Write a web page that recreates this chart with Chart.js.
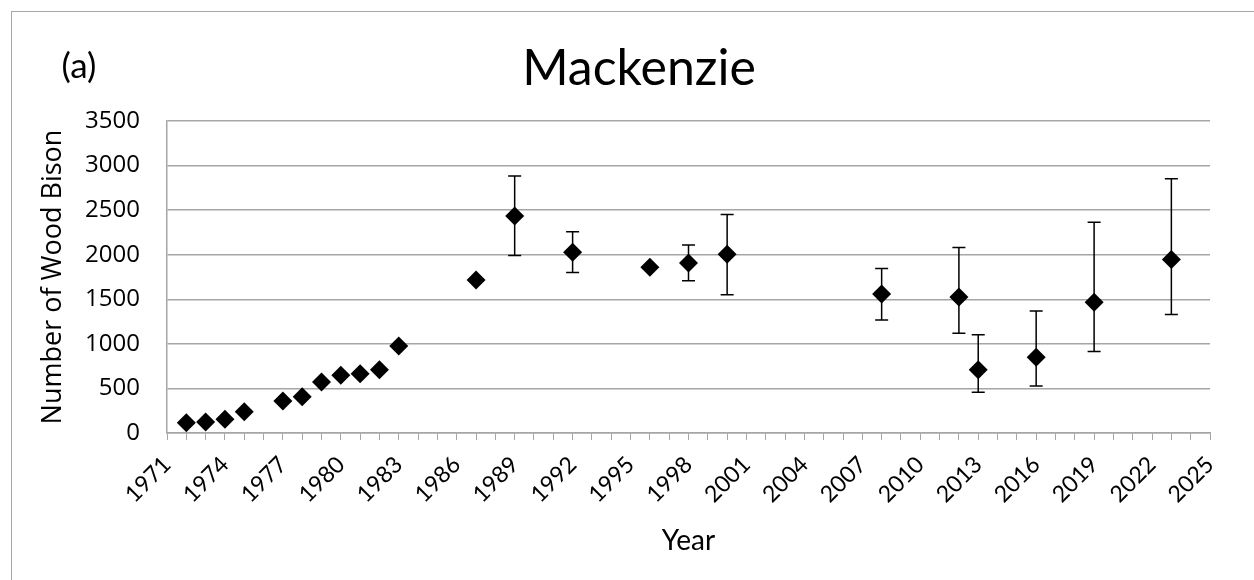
<!DOCTYPE html>
<html>
<head>
<meta charset="utf-8">
<script src="https://cdn.jsdelivr.net/npm/chart.js@4/dist/chart.umd.min.js"></script>
<style>
    html, body { margin: 0; padding: 0; background: #fff; }
    #wrap { width: 1254px; height: 580px; position: relative; }
</style>
</head>
<body>
<div id="wrap"><canvas id="bison-chart" width="1254" height="580"></canvas></div>
<script>
// Survey years and estimated herd size
const years = [1972, 1973, 1974, 1975, 1977, 1978, 1979, 1980, 1981, 1982, 1983,
    1987, 1989, 1992, 1996, 1998, 2000, 2008, 2012, 2013, 2016, 2019, 2023];
const counts = [115, 123, 154, 239, 359, 408, 572, 647, 665, 710, 976,
    1717, 2435, 2028, 1860, 1908, 2005, 1560, 1527, 710, 850, 1467, 1945];
// Confidence limits (null where no error bar was drawn)
const upperLimits = [null, null, null, null, null, null, null, null, null, null, null,
    null, 2884, 2259, null, 2110, 2450, 1844, 2080, 1103, 1369, 2365, 2851];
const lowerLimits = [null, null, null, null, null, null, null, null, null, null, null,
    null, 1990, 1800, null, 1709, 1552, 1268, 1119, 457, 527, 913, 1328];
const yTicks = [0, 500, 1000, 1500, 2000, 2500, 3000, 3500];
const xMin = 1971, xMax = 2025, xLabelStep = 3;

const geometric = 'Lato, "Noto Sans", sans-serif';
const plain = '"Open Sans", "Noto Sans", sans-serif';

// Error bars drawn from the chart's own scales
const errorBars = {
    id: 'errorBars',
    afterDatasetsDraw(chart) {
        const ctx = chart.ctx;
        const xs = chart.scales.x, ys = chart.scales.y;
        ctx.save();
        ctx.strokeStyle = '#000';
        ctx.lineWidth = 1.5;
        years.forEach(function(yr, i) {
            if (upperLimits[i] == null) return;
            const px = xs.getPixelForValue(yr);
            const top = ys.getPixelForValue(upperLimits[i]);
            const bot = ys.getPixelForValue(lowerLimits[i]);
            ctx.beginPath();
            ctx.moveTo(px, top); ctx.lineTo(px, bot);
            ctx.moveTo(px - 6.5, top); ctx.lineTo(px + 6.5, top);
            ctx.moveTo(px - 6.5, bot); ctx.lineTo(px + 6.5, bot);
            ctx.stroke();
        });
        ctx.restore();
    }
};

// Frame, panel letter and title
const decorations = {
    id: 'decorations',
    afterDraw(chart) {
        const ctx = chart.ctx;
        ctx.save();
        ctx.strokeStyle = '#a6a6a6';
        ctx.lineWidth = 1;
        ctx.strokeRect(11.5, 11.5, 1300, 700);
        ctx.fillStyle = '#000';
        ctx.textAlign = 'center';
        ctx.textBaseline = 'alphabetic';
        ctx.font = '50px ' + geometric;
        ctx.fillText('Mackenzie', 639, 85);
        ctx.font = '35px ' + geometric;
        ctx.fillText('(a)', 79, 78);
        ctx.restore();
    }
};

new Chart(document.getElementById('bison-chart'), {
    type: 'scatter',
    data: {
        datasets: [{
            label: 'Wood Bison',
            data: years.map(function(yr, i) { return { x: yr, y: counts[i] }; }),
            pointStyle: 'rectRot',
            pointRadius: 9.5,
            pointHoverRadius: 9.5,
            backgroundColor: '#000',
            borderColor: '#000',
            borderWidth: 0
        }]
    },
    options: {
        responsive: false,
        animation: false,
        events: [],
        layout: { padding: { left: 37, top: 121, right: 44, bottom: 20 } },
        plugins: {
            legend: { display: false },
            tooltip: { enabled: false }
        },
        scales: {
            x: {
                type: 'linear',
                min: xMin,
                max: xMax,
                afterBuildTicks: function(scale) {
                    const t = [];
                    for (let v = xMin; v <= xMax; v++) t.push({ value: v });
                    scale.ticks = t;
                },
                afterFit: function(scale) { scale.height = 127; },
                border: { color: '#a6a6a6', width: 1.5 },
                grid: { drawOnChartArea: false, drawTicks: true, tickLength: 7, color: '#a6a6a6' },
                ticks: {
                    autoSkip: false,
                    minRotation: 45,
                    maxRotation: 45,
                    padding: 11,
                    color: '#000',
                    font: { family: geometric, size: 23 },
                    callback: function(v) { return (v - xMin) % xLabelStep === 0 ? String(v) : ''; }
                },
                title: {
                    display: true,
                    text: 'Year',
                    color: '#000',
                    font: { family: geometric, size: 28 },
                    padding: { top: 0, bottom: 2 }
                }
            },
            y: {
                min: yTicks[0],
                max: yTicks[yTicks.length - 1],
                afterBuildTicks: function(scale) {
                    scale.ticks = yTicks.map(function(v) { return { value: v }; });
                },
                afterFit: function(scale) { scale.width = 130; },
                border: { color: '#a6a6a6', width: 1.5 },
                grid: { drawTicks: false, color: '#a6a6a6', lineWidth: 1.5 },
                ticks: {
                    padding: 27,
                    color: '#000',
                    font: { family: plain, size: 24 },
                    callback: function(v) { return String(v); }
                },
                title: {
                    display: true,
                    text: 'Number of Wood Bison',
                    color: '#000',
                    font: { family: plain, size: 27 },
                    padding: { top: 0, bottom: 0 }
                }
            }
        }
    },
    plugins: [errorBars, decorations]
});
</script>
</body>
</html>
